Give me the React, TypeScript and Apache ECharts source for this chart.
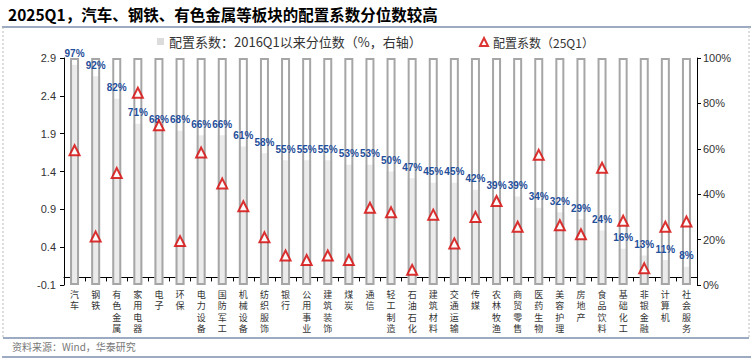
import React, { useEffect, useRef } from 'react';
import * as echarts from 'echarts';

const categories = ['汽车', '钢铁', '有色金属', '家用电器', '电子', '环保', '电力设备', '国防军工', '机械设备', '纺织服饰', '银行', '公用事业', '建筑装饰', '煤炭', '通信', '轻工制造', '石油石化', '建筑材料', '交通运输', '传媒', '农林牧渔', '商贸零售', '医药生物', '美容护理', '房地产', '食品饮料', '基础化工', '非银金融', '计算机', '社会服务'];
const percentile = [97, 92, 82, 71, 68, 68, 66, 66, 61, 58, 55, 55, 55, 53, 53, 50, 47, 45, 45, 42, 39, 39, 34, 32, 29, 24, 16, 13, 11, 8];
const coef25Q1 = [1.68, 0.54, 1.38, 2.44, 2.01, 0.48, 1.65, 1.24, 0.94, 0.53, 0.29, 0.23, 0.29, 0.23, 0.92, 0.86, 0.10, 0.83, 0.45, 0.80, 1.01, 0.67, 1.62, 0.69, 0.57, 1.45, 0.75, 0.12, 0.67, 0.74];
const fullScale = categories.map(() => 100);

const TITLE = '2025Q1，汽车、钢铁、有色金属等板块的配置系数分位数较高';
const SOURCE = '资料来源：Wind，华泰研究';
const BAR_NAME = '配置系数：2016Q1以来分位数（%，右轴）';
const TRI_NAME = '配置系数（25Q1）';

const CJK = '"Noto Sans CJK SC", "Liberation Sans", sans-serif';
const LATIN_FIRST = '"Liberation Sans", "Noto Sans CJK SC", sans-serif';

export default function App() {
  const ref = useRef<HTMLDivElement>(null);
  useEffect(() => {
    if (!ref.current) return;
    const chart = echarts.init(ref.current, undefined, { renderer: 'svg' });
    chart.setOption({
      animation: false,
      backgroundColor: '#fff',
      textStyle: { fontFamily: CJK },
      graphic: [
        { type: 'text', left: 8, top: 6, style: { text: TITLE, font: 'bold 15.5px "Noto Sans CJK SC"', fill: '#000' } },
        { type: 'line', shape: { x1: 2, y1: 27, x2: 751, y2: 27 }, style: { stroke: '#7b8fae', lineWidth: 1.5 } },
        { type: 'line', shape: { x1: 3, y1: 27, x2: 3, y2: 338 }, style: { stroke: '#bbbbbb', lineWidth: 1, lineDash: [2, 2] } },
        { type: 'line', shape: { x1: 749, y1: 27, x2: 749, y2: 338 }, style: { stroke: '#bbbbbb', lineWidth: 1, lineDash: [2, 2] } },
        { type: 'line', shape: { x1: 3, y1: 338, x2: 749, y2: 338 }, style: { stroke: '#7b8fae', lineWidth: 1.5 } },
        { type: 'text', left: 12, top: 341, style: { text: SOURCE, font: '10px "Noto Sans CJK SC"', fill: '#777' } },
        { type: 'line', shape: { x1: 2, y1: 357, x2: 751, y2: 357 }, style: { stroke: '#7b8fae', lineWidth: 1.5 } },
      ],
      legend: [
        {
          data: [{ name: BAR_NAME, icon: 'rect', itemStyle: { color: '#dcdcdc', borderWidth: 0 } }],
          left: 152, top: 30, itemWidth: 7, itemHeight: 7, itemGap: 4,
          textStyle: { fontSize: 13, color: '#333', fontFamily: CJK },
        },
        {
          data: [{ name: TRI_NAME, icon: 'triangle' }],
          left: 474, top: 31, itemWidth: 8, itemHeight: 8,
          textStyle: { fontSize: 12, color: '#333', fontFamily: CJK },
        },
      ],
      grid: { left: 64, right: 56, top: 58, bottom: 75 },
      xAxis: {
        type: 'category',
        data: categories,
        axisLine: { lineStyle: { color: '#000', width: 1 } },
        axisTick: { show: true, length: 4, lineStyle: { color: '#000' } },
        axisLabel: {
          interval: 0,
          fontSize: 9,
          lineHeight: 11.5,
          color: '#333',
          margin: 4,
          fontFamily: LATIN_FIRST,
          formatter: (v: string) => v.split('').join('\n'),
        },
      },
      yAxis: [
        {
          type: 'value',
          min: -0.1,
          max: 2.9,
          interval: 0.5,
          axisLine: { show: true, lineStyle: { color: '#000' } },
          axisTick: { show: true, length: 4, lineStyle: { color: '#000' } },
          splitLine: { show: false },
          axisLabel: { fontSize: 11, color: '#333', margin: 8, fontFamily: 'Liberation Sans, Arial', formatter: (v: number) => v.toFixed(1) },
        },
        {
          type: 'value',
          min: 0,
          max: 100,
          interval: 20,
          position: 'right',
          axisLine: { show: true, lineStyle: { color: '#000' } },
          axisTick: { show: true, length: 4, lineStyle: { color: '#000' } },
          splitLine: { show: false },
          axisLabel: { fontSize: 11, color: '#333', margin: 6, fontFamily: 'Liberation Sans, Arial', formatter: '{value}%' },
        },
      ],
      series: [
        {
          name: BAR_NAME,
          type: 'bar',
          yAxisIndex: 1,
          data: percentile,
          barWidth: 9,
          barGap: '-100%',
          itemStyle: { color: '#ebebeb' },
          z: 2,
        },
        {
          name: 'frame',
          type: 'bar',
          yAxisIndex: 1,
          data: fullScale,
          barWidth: 9,
          barGap: '-100%',
          itemStyle: { color: 'rgba(0,0,0,0)', borderColor: '#a6a6a6', borderWidth: 2 },
          z: 3,
          silent: true,
        },
        {
          name: 'labels',
          type: 'bar',
          yAxisIndex: 1,
          data: percentile,
          barWidth: 9,
          barGap: '-100%',
          itemStyle: { color: 'rgba(0,0,0,0)' },
          z: 4,
          silent: true,
          label: {
            show: true,
            position: 'top',
            distance: 6,
            formatter: '{c}%',
            fontSize: 10,
            fontWeight: 'bold',
            color: '#1f4e9a',
            fontFamily: 'Liberation Sans, Arial',
          },
        },
        {
          name: TRI_NAME,
          type: 'scatter',
          yAxisIndex: 0,
          data: coef25Q1,
          symbol: 'triangle',
          symbolSize: 10,
          itemStyle: { color: '#fff', borderColor: '#d40000', borderWidth: 2 },
          z: 5,
        },
      ],
    });
    return () => chart.dispose();
  }, []);
  return <div ref={ref} style={{ position: 'absolute', left: 0, top: 0, width: 753, height: 360 }} />;
}
